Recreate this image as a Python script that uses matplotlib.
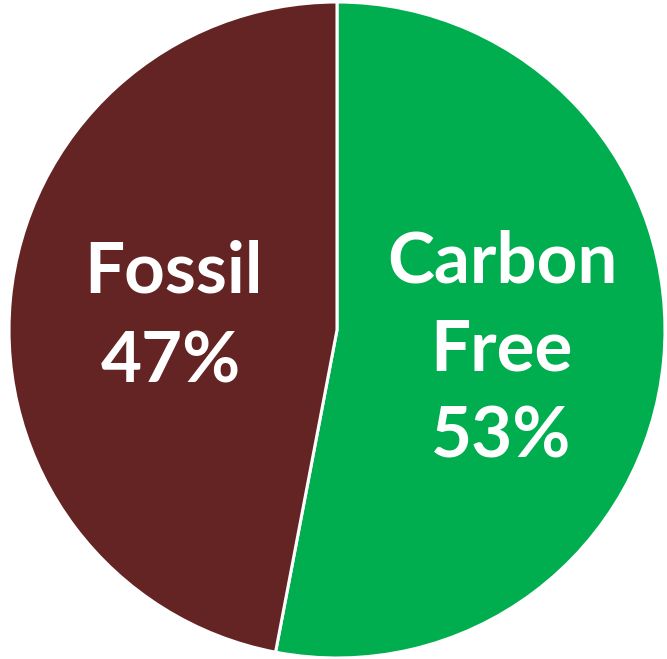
import matplotlib
matplotlib.use("Agg")
import matplotlib.pyplot as plt

categories = ["Carbon Free", "Fossil"]
shares = [53, 47]
colors = ["#00AE4F", "#632423"]

W, H, DPI = 667, 659, 100
fig = plt.figure(figsize=(W / DPI, H / DPI), dpi=DPI)
fig.patch.set_facecolor("white")

# pie centre and radius in pixels
cx, cy, r = 337, 330, 328
ax = fig.add_axes([(cx - r) / W, (H - cy - r) / H, 2 * r / W, 2 * r / H])
ax.pie(shares, colors=colors, startangle=90, counterclock=False,
       wedgeprops=dict(edgecolor="white", linewidth=2.2))
ax.set_xlim(-1, 1)
ax.set_ylim(-1, 1)
ax.set_aspect("equal")
ax.axis("off")


def px(x, y):
    return (x - cx) / r, (cy - y) / r


font = dict(color="white", fontsize=51, fontweight="bold", family="Lato",
            ha="center", va="center")

ax.text(*px(502, 262), "Carbon", **font)
ax.text(*px(501, 350), "Free", **font)
ax.text(*px(501, 437), f"{shares[0]}%", **font)
ax.text(*px(173, 272), "Fossil", **font)
ax.text(*px(171, 362), f"{shares[1]}%", **font)

fig.savefig("out.png", dpi=DPI)
